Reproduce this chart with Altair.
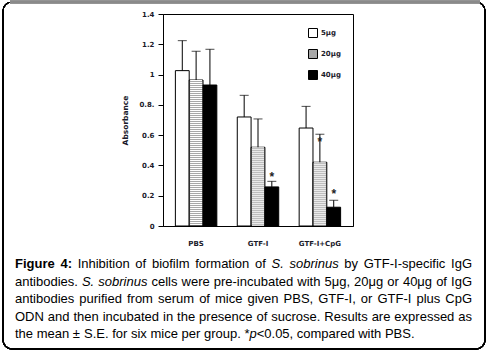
import altair as alt
import pandas as pd

# ---------------- data ----------------
groups = ["PBS", "GTF-I", "GTF-I+CpG"]
doses = ["5μg", "20μg", "40μg"]
mean_5 = [1.026, 0.720, 0.647]
mean_20 = [0.964, 0.520, 0.421]
mean_40 = [0.931, 0.258, 0.124]
se_5 = [0.198, 0.143, 0.143]
se_20 = [0.190, 0.187, 0.185]
se_40 = [0.236, 0.037, 0.046]

star_groups = ["GTF-I", "GTF-I+CpG", "GTF-I+CpG"]
star_doses = ["40μg", "20μg", "40μg"]
star_pos = [0.343, 0.573, 0.231]

y_ticks = [0, 0.2, 0.4, 0.6, 0.8, 1.0, 1.2, 1.4]

caption_runs = [
    [("Figure 4:", "b"), (" Inhibition of biofilm formation of ", "n"), ("S. sobrinus", "i"),
     (" by GTF-I-specific IgG", "n")],
    [("antibodies. ", "n"), ("S. sobrinus", "i"),
     (" cells were pre-incubated with 5μg, 20μg or 40μg of IgG", "n")],
    [("antibodies purified from serum of mice given PBS, GTF-I, or GTF-I plus CpG", "n")],
    [("ODN and then incubated in the presence of sucrose. Results are expressed as", "n")],
    [("the mean ± S.E. for six mice per group. *", "n"), ("p", "i"), ("<0.05, compared with PBS.", "n")],
]
caption_justify = [True, True, True, True, False]

rows = []
for i, g in enumerate(groups):
    for d, m, s in zip(doses, [mean_5, mean_20, mean_40], [se_5, se_20, se_40]):
        rows.append({"group": g, "dose": d, "mean": m[i], "top": m[i] + s[i]})
df = pd.DataFrame(rows)
stars = pd.DataFrame({"group": star_groups, "dose": star_doses, "pos": star_pos})

# ---------------- caption layout (Arial metrics) ----------------
W_REG = {
    'a': 556, 'b': 556, 'c': 500, 'd': 556, 'e': 556, 'f': 278, 'g': 556, 'h': 556, 'i': 222,
    'j': 222, 'k': 500, 'l': 222, 'm': 833, 'n': 556, 'o': 556, 'p': 556, 'q': 556, 'r': 333,
    's': 500, 't': 278, 'u': 556, 'v': 500, 'w': 722, 'x': 500, 'y': 500, 'z': 500,
    'A': 667, 'B': 667, 'C': 722, 'D': 722, 'E': 667, 'F': 611, 'G': 778, 'H': 722, 'I': 278,
    'J': 500, 'K': 667, 'L': 556, 'M': 833, 'N': 722, 'O': 778, 'P': 667, 'Q': 778, 'R': 722,
    'S': 667, 'T': 611, 'U': 722, 'V': 667, 'W': 944, 'X': 667, 'Y': 667, 'Z': 611,
    ' ': 278, '.': 278, ',': 278, ':': 278, '-': 333, '*': 389, '<': 584, '±': 584, 'μ': 576,
}
W_BOLD = {'F': 611, 'i': 278, 'g': 611, 'u': 611, 'r': 389, 'e': 556, '4': 556, ':': 333, ' ': 278}
FS = 13.0


def tw(text, st):
    tot = 0
    for ch in text:
        if st == "b":
            tot += W_BOLD.get(ch, W_REG.get(ch, 556))
        else:
            tot += W_REG.get(ch, 556)
    return tot * FS / 1000.0


def words_of(runs):
    words = [[]]
    for text, st in runs:
        parts = text.split(" ")
        for k, p in enumerate(parts):
            if k > 0:
                words.append([])
            if p:
                words[-1].append((p, st))
    return [w for w in words if w]


PLOT_L, PLOT_T = 163, 14
cap_left = 15 - PLOT_L
cap_width = 457
cap_base0 = 268 - PLOT_T
cap_lh = 17.5
cap_rows = []
for li, (runs, just) in enumerate(zip(caption_runs, caption_justify)):
    words = words_of(runs)
    wsum = sum(tw(t, s) for w in words for t, s in w)
    gap = (cap_width - wsum) / (len(words) - 1) if just else FS * 0.278
    x = cap_left
    for w in words:
        for t, s in w:
            cap_rows.append({"txt": t, "st": s, "px": x, "py": cap_base0 + li * cap_lh})
            x += tw(t, s)
        x += gap
cap_df = pd.DataFrame(cap_rows)

# ---------------- chart ----------------
LBL_FONT = "DejaVu Sans"
LBL_COL = "#1a1a2a"

xenc = alt.X("group:N", scale=alt.Scale(domain=groups, paddingInner=0.33, paddingOuter=0.2),
             axis=alt.Axis(title=None, ticks=False, labelAngle=0, labelPadding=13,
                           labelFont=LBL_FONT, labelFontSize=7, labelFontWeight="bold",
                           labelColor=LBL_COL, domainColor="black"))
xoff = alt.XOffset("dose:N", scale=alt.Scale(domain=doses, paddingInner=0, paddingOuter=0))
yscale = alt.Scale(domain=[0, 1.4], nice=False)
yaxis = alt.Axis(title="Absorbance", values=y_ticks, grid=False, tickSize=5,
                 tickColor="black", domainColor="black", labelPadding=4,
                 labelOverlap=False, labelBound=False, labelFlush=False,
                 labelExpr="abs(datum.value - 0.8) < 0.001 ? '0.8.' : format(datum.value, '~g')",
                 labelFont=LBL_FONT, labelFontSize=7, labelFontWeight="bold",
                 labelColor=LBL_COL, titleFont=LBL_FONT, titleFontSize=7.5,
                 titleFontWeight="bold", titleColor=LBL_COL, titlePadding=9)


def yq(field):
    return alt.Y(field, scale=yscale, axis=yaxis, title="Absorbance")


bars = alt.Chart(df).mark_bar(stroke="black", strokeWidth=1).encode(
    x=xenc,
    xOffset=xoff,
    y=yq("mean:Q"),
    fill=alt.Fill("dose:N", scale=alt.Scale(domain=doses, range=["white", "#a8a8a8", "black"]),
                  legend=alt.Legend(title=None, orient="none", legendX=145, legendY=14,
                                    symbolType="square", symbolSize=81, symbolStrokeColor="black",
                                    symbolStrokeWidth=1, symbolOpacity=1, labelFont=LBL_FONT,
                                    labelFontSize=7, labelFontWeight="bold", labelColor=LBL_COL,
                                    labelOffset=3, rowPadding=7, padding=0)),
)

stripes = alt.Chart(df).transform_filter(alt.datum.dose == "20μg").mark_rule(
    color="white", strokeWidth=12, strokeDash=[1, 1]
).encode(x=xenc, xOffset=xoff, y=yq("mean:Q"), y2=alt.datum(0))

err = alt.Chart(df).mark_rule(color="black", strokeWidth=1).encode(
    x=xenc, xOffset=xoff, y=yq("mean:Q"), y2="top:Q")
caps = alt.Chart(df).mark_tick(color="black", thickness=1, size=9).encode(
    x=xenc, xOffset=xoff, y=yq("top:Q"))

star_marks = alt.Chart(stars).mark_text(
    text="*", font="Liberation Sans", fontSize=12, fontWeight="bold", color="#222222",
    baseline="alphabetic", dy=7
).encode(x=xenc, xOffset=xoff, y=yq("pos:Q"))

plot = alt.layer(bars, stripes, err, caps, star_marks)


def cap_layer(st, weight, style):
    return alt.Chart(cap_df).transform_filter(alt.datum.st == st).mark_text(
        align="left", baseline="alphabetic", font="Liberation Sans", fontSize=FS,
        fontWeight=weight, fontStyle=style, color="black"
    ).encode(x=alt.X("px:Q", scale=None, axis=None),
             y=alt.Y("py:Q", scale=None, axis=None),
             text="txt:N")


caption = alt.layer(cap_layer("n", "normal", "normal"),
                    cap_layer("b", "bold", "normal"),
                    cap_layer("i", "normal", "italic"))

frame = alt.Chart(df).mark_rect(fill=None, stroke="black", strokeWidth=1.2, cornerRadius=9).encode(
    x=alt.value(3 - PLOT_L), x2=alt.value(485 - PLOT_L),
    y=alt.value(2 - PLOT_T), y2=alt.value(349 - PLOT_T))
frame_top = alt.Chart(df).mark_rule(color="#8a8a8a", strokeWidth=2.5).encode(
    x=alt.value(10 - PLOT_L), x2=alt.value(480 - PLOT_L), y=alt.value(2 - PLOT_T))

chart = alt.layer(plot, caption, frame, frame_top).resolve_scale(
    x="independent", y="independent"
).properties(
    width=190, height=212,
    padding={"left": PLOT_L, "top": PLOT_T, "right": 488 - 353, "bottom": 352 - 226},
    autosize="none",
    background="white",
).configure_view(stroke="black", strokeWidth=1)

chart.save("out.html", embed_options={"renderer": "svg", "actions": False})
